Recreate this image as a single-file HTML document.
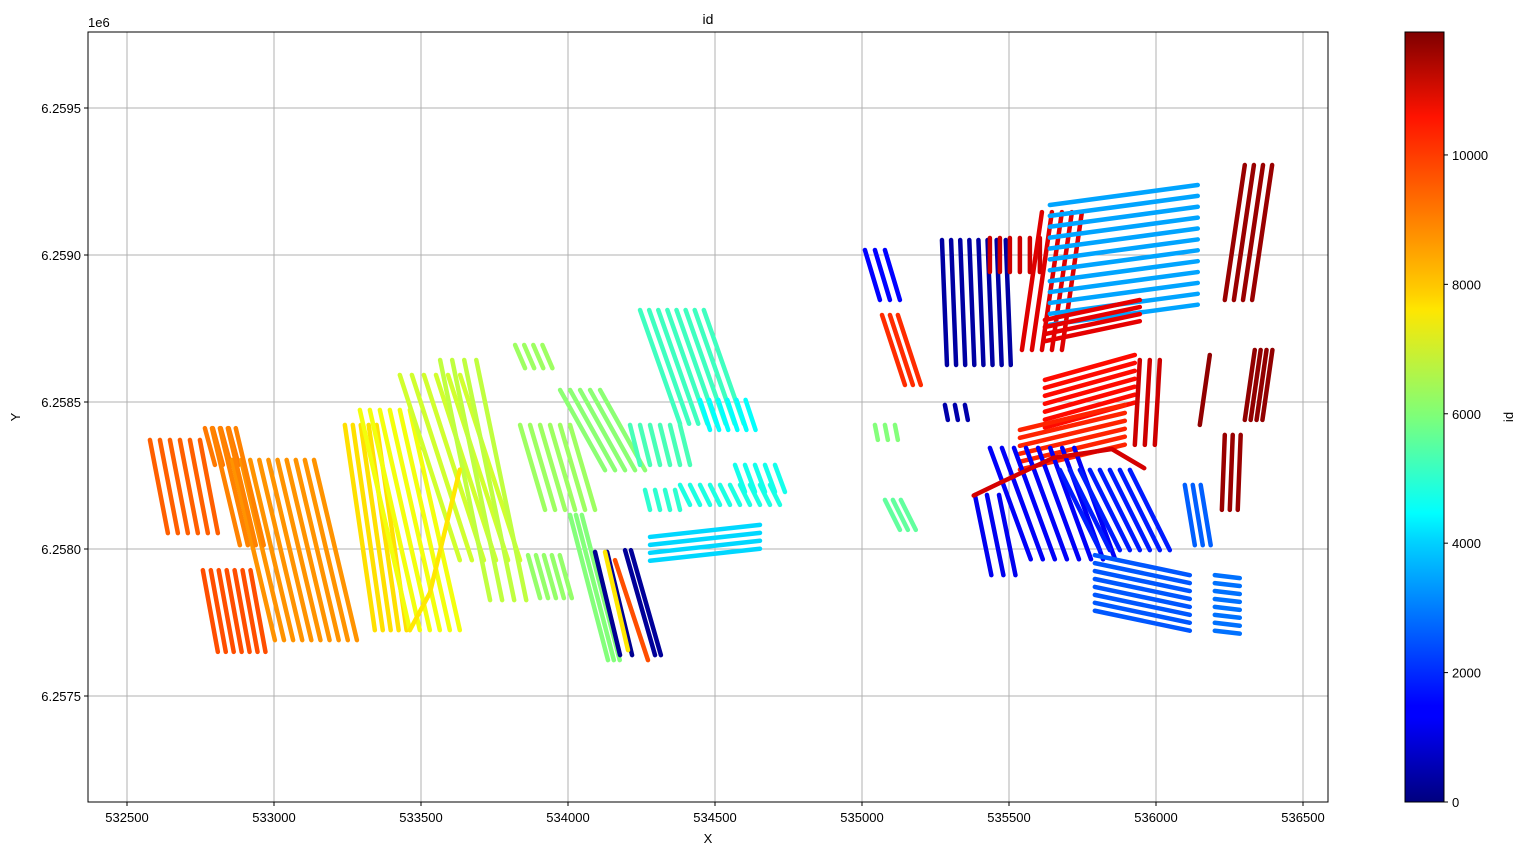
<!DOCTYPE html>
<html><head><meta charset="utf-8"><style>
body{margin:0;background:#fff;font-family:"Liberation Sans",sans-serif}
svg text{font-family:"Liberation Sans",sans-serif;fill:#000}
</style></head><body>
<svg id="chart" width="1526" height="855">
<defs><linearGradient id="jet" x1="0" y1="1" x2="0" y2="0">
<stop offset="0" stop-color="#00007f"/><stop offset="0.11" stop-color="#0000ff"/><stop offset="0.125" stop-color="#0000ff"/>
<stop offset="0.34" stop-color="#00d4ff"/><stop offset="0.375" stop-color="#00ffff"/><stop offset="0.5" stop-color="#7dff7a"/>
<stop offset="0.64" stop-color="#ffe600"/><stop offset="0.66" stop-color="#ffd000"/><stop offset="0.89" stop-color="#ff1300"/><stop offset="1" stop-color="#7f0000"/>
</linearGradient></defs>
<g id="grid"></g>
<g id="marks"></g>
<rect x="88" y="32" width="1240" height="770" fill="none" stroke="#000" stroke-width="1"/>
<g id="ticks"></g>
<text x="708" y="24" font-size="14" text-anchor="middle">id</text>
<text x="88" y="27" font-size="13">1e6</text>
<text x="708" y="843" font-size="13" text-anchor="middle">X</text>
<text x="20" y="417" font-size="13" text-anchor="middle" transform="rotate(-90 20 417)">Y</text>
<rect x="1405" y="32" width="39" height="770" fill="url(#jet)" stroke="#000" stroke-width="1"/>
<g id="cbticks"></g>
<text x="1513" y="417" font-size="13" text-anchor="middle" transform="rotate(-90 1513 417)">id</text>
</svg>
<script>
const xTicks=[532500,533000,533500,534000,534500,535000,535500,536000,536500];
const yTicks=[6257500,6258000,6258500,6259000,6259500];
const yTickLabels=["6.2575","6.2580","6.2585","6.2590","6.2595"];
const cbTicks=[0,2000,4000,6000,8000,10000];
// line groups: start/end of first line, count, offsets between lines (data units), id
const gx0=[532578,532765,532758,532857,532789,533241,533292,533428,533565,533820,533837,533973,533864,534007,534245,534449,534211,534262,534381,534568,534279,534092,534194,534126,534160,535010,535272,535068,535282,535435,535612,535639,535622,536234,535622,535537,535928,536149,536302,536224,535435,535384,535673,535792,536098,536200,535078,535044];
const gy0=[6258371,6258411,6257928,6258303,6258411,6258422,6258473,6258592,6258643,6258694,6258422,6258541,6257979,6258116,6258813,6258507,6258422,6258201,6258218,6258286,6258041,6257990,6257996,6257990,6257962,6259017,6259051,6258796,6258490,6259058,6259146,6259170,6258779,6258847,6258575,6258405,6258354,6258422,6258439,6258133,6258344,6258184,6258269,6257979,6258218,6257911,6258167,6258422];
const gx1=[532639,532799,532809,533003,532884,533343,533462,533632,533735,533854,533922,534126,533905,534136,534381,534483,534245,534279,534415,534602,534653,534177,534296,534204,534272,535061,535289,535146,535292,535435,535544,536142,535945,536302,535928,535894,535945,536183,536336,536234,535574,535440,535809,536115,536132,536285,535129,535054];
const gy1=[6258054,6258286,6257650,6257690,6258013,6257724,6257724,6257962,6257826,6258615,6258133,6258268,6257833,6257622,6258426,6258405,6258286,6258133,6258150,6258194,6258082,6257639,6257639,6257656,6257622,6258847,6258626,6258558,6258439,6258942,6258677,6259238,6258847,6259306,6258660,6258490,6258643,6258660,6258677,6258388,6257965,6257911,6257996,6257911,6258013,6257901,6258065,6258371];
const gcount=[6,4,7,10,4,5,6,6,4,4,6,5,5,3,8,6,6,4,10,5,4,2,2,1,1,3,8,3,3,6,5,12,4,4,7,6,3,1,4,3,8,3,8,8,3,8,3,3];
const gstepX=[34,27,27,31,27,27,34,41,41,31,34,34,27,20,31,31,34,34,34,34,0,41,20,0,0,34,31,27,34,34,34,0,0,31,0,0,34,0,20,27,41,41,34,0,27,0,27,34];
const gstepY=[0,0,0,0,0,0,0,0,0,0,0,0,0,0,0,0,0,0,0,0,-27,0,0,0,0,0,0,0,0,0,0,-37,-24,0,-27,-27,0,0,0,0,0,0,0,-27,0,-27,0,0];
const gid=[9300,9000,9500,8700,8900,7800,7300,6900,6700,6300,6300,6100,6200,6000,5200,4500,5300,5000,4800,4700,4000,200,300,7700,9500,1500,400,9900,500,11000,10800,3400,10700,11600,10300,10000,11000,11700,11700,11600,1400,1300,1800,2500,2600,2800,5600,6000];
// curved tracks
const roadX=[535380,535480,535650,535850,535960];const roadY=[6258182,6258230,6258310,6258340,6258275];const roadId=10900;
const yelX=[533462,533530,533632];const yelY=[6257724,6257850,6258270];const yelId=7700;
const VMIN=0,VMAX=11900;
const X0=88,X1=1328,Y0=32,Y1=802;
const xs=v=>127+(v-532500)*147/500;
const ys=v=>255-(v-6259000)*147/500;
function jet(t){t=Math.max(0,Math.min(1,t));const f=x=>Math.round(255*Math.max(0,Math.min(1,1.5-Math.abs(4*t-x))));return `rgb(${f(3)},${f(2)},${f(1)})`;}
const col=v=>jet((v-VMIN)/(VMAX-VMIN));
const NS="http://www.w3.org/2000/svg";
function mk(tag,attrs,parent){const e=document.createElementNS(NS,tag);for(const k in attrs)e.setAttribute(k,attrs[k]);parent.appendChild(e);return e;}
const grid=document.getElementById('grid'),ticks=document.getElementById('ticks'),marks=document.getElementById('marks'),cbt=document.getElementById('cbticks');
xTicks.forEach(v=>{const x=xs(v);
 const l=mk('line',{x1:x,x2:x,y1:Y0,y2:Y1,stroke:'#b0b0b0','stroke-width':1},grid);
 
 
 const t=mk('line',{x1:x,x2:x,y1:Y1,y2:Y1+4,stroke:'#000'},ticks);
 
 
 const tx=mk('text',{x:x,y:Y1+20,'font-size':13,'text-anchor':'middle'},ticks);tx.textContent=v;
 
 });
yTicks.forEach((v,i)=>{const y=ys(v);
 const l=mk('line',{x1:X0,x2:X1,y1:y,y2:y,stroke:'#b0b0b0','stroke-width':1},grid);
 
 
 const t=mk('line',{x1:X0-4,x2:X0,y1:y,y2:y,stroke:'#000'},ticks);
 
 
 const tx=mk('text',{x:X0-7,y:y+5,'font-size':13,'text-anchor':'end'},ticks);tx.textContent=yTickLabels[i];
 
 });
for(let g=0;g<gx0.length;g++){for(let k=0;k<gcount[g];k++){
 const dx=gstepX[g]*k,dy=gstepY[g]*k;
 const l=mk('line',{x1:xs(gx0[g]+dx),y1:ys(gy0[g]+dy),x2:xs(gx1[g]+dx),y2:ys(gy1[g]+dy),stroke:col(gid[g]),'stroke-width':4.5,'stroke-linecap':'round'},marks);
 
 }}
function poly(X,Y,id,name){const p=mk('polyline',{points:X.map((x,i)=>xs(x)+','+ys(Y[i])).join(' '),fill:'none',stroke:col(id),'stroke-width':4.5,'stroke-linecap':'round','stroke-linejoin':'round'},marks);
 
 }
poly(yelX,yelY,yelId,'yellow-track');
poly(roadX,roadY,roadId,'red-road-track');
const cbY=v=>802-(v-VMIN)/(VMAX-VMIN)*770;
cbTicks.forEach(v=>{const y=cbY(v);
 const t=mk('line',{x1:1444,x2:1448,y1:y,y2:y,stroke:'#000'},cbt);
 
 
 const tx=mk('text',{x:1452,y:y+5,'font-size':13},cbt);tx.textContent=v;
 
 });
</script>
</body></html>
